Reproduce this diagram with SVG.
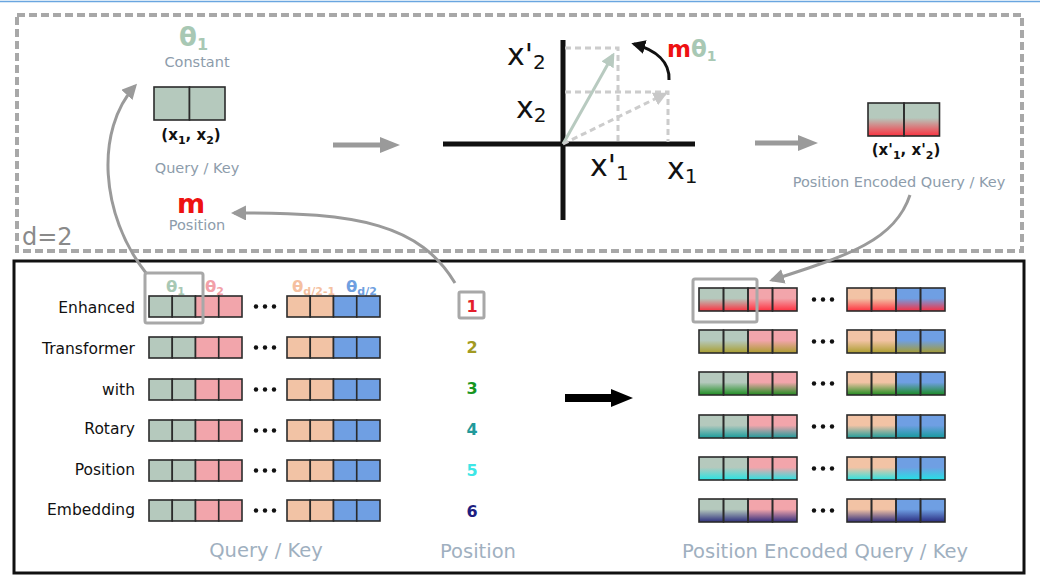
<svg xmlns="http://www.w3.org/2000/svg" width="1040" height="588" viewBox="0 0 1040 588">
<style>
text{font-family:"DejaVu Sans",Verdana,sans-serif}
.lbl{font-size:14.5px;fill:#8d9cab;text-anchor:middle}
.big{font-size:19.5px;fill:#9fb0c0;text-anchor:middle}
.row{font-size:15.5px;fill:#111;text-anchor:end}
.num{font-size:16px;font-weight:bold;text-anchor:middle}
.ax{font-size:30px;fill:#111}
.c{stroke:#2b2b2b;stroke-width:1.6}
.g{fill:#b5c9bd}.p{fill:#f2a5ab}.o{fill:#f2c3a5}.b{fill:#6f9fe3}
.curve{fill:none;stroke:#9a9a9a;stroke-width:3;marker-end:url(#ga)}
.dash{fill:none;stroke:#cccccc;stroke-width:3;stroke-dasharray:6 4}
.th{font-weight:bold;font-size:16.5px}
</style>
<defs>
<marker id="ga" viewBox="0 0 10 10" refX="8" refY="5" markerWidth="15" markerHeight="15" markerUnits="userSpaceOnUse" orient="auto"><path d="M0,0 L10,5 L0,10 z" fill="#9a9a9a"/></marker>
<marker id="va" viewBox="0 0 10 10" refX="8" refY="5" markerWidth="14" markerHeight="14" markerUnits="userSpaceOnUse" orient="auto"><path d="M0,0 L10,5 L0,10 z" fill="#b8cac0"/></marker>
<marker id="da" viewBox="0 0 10 10" refX="8" refY="5" markerWidth="14" markerHeight="14" markerUnits="userSpaceOnUse" orient="auto"><path d="M0,0 L10,5 L0,10 z" fill="#c8c8c8"/></marker>
<marker id="ka" viewBox="0 0 10 10" refX="8" refY="5" markerWidth="14" markerHeight="14" markerUnits="userSpaceOnUse" orient="auto"><path d="M0,0 L10,5 L0,10 z" fill="#111"/></marker>
<linearGradient id="r1" x1="0" y1="0" x2="0" y2="1"><stop offset="0.45" stop-color="#ff2a3a" stop-opacity="0"/><stop offset="1" stop-color="#ff2a3a" stop-opacity="0.95"/></linearGradient>
<linearGradient id="r2" x1="0" y1="0" x2="0" y2="1"><stop offset="0.45" stop-color="#a89c28" stop-opacity="0"/><stop offset="1" stop-color="#a89c28" stop-opacity="0.95"/></linearGradient>
<linearGradient id="r3" x1="0" y1="0" x2="0" y2="1"><stop offset="0.45" stop-color="#158a18" stop-opacity="0"/><stop offset="1" stop-color="#158a18" stop-opacity="0.95"/></linearGradient>
<linearGradient id="r4" x1="0" y1="0" x2="0" y2="1"><stop offset="0.45" stop-color="#109a9a" stop-opacity="0"/><stop offset="1" stop-color="#109a9a" stop-opacity="0.95"/></linearGradient>
<linearGradient id="r5" x1="0" y1="0" x2="0" y2="1"><stop offset="0.45" stop-color="#20e5e5" stop-opacity="0"/><stop offset="1" stop-color="#20e5e5" stop-opacity="0.95"/></linearGradient>
<linearGradient id="r6" x1="0" y1="0" x2="0" y2="1"><stop offset="0.45" stop-color="#26267a" stop-opacity="0"/><stop offset="1" stop-color="#26267a" stop-opacity="0.95"/></linearGradient>
<g id="L1"><rect class="c g" x="0" y="0" width="23.25" height="21"/><rect class="c g" x="23.25" y="0" width="23.25" height="21"/><rect class="c p" x="46.5" y="0" width="23.25" height="21"/><rect class="c p" x="69.75" y="0" width="23.25" height="21"/></g>
<g id="L2"><rect class="c o" x="0" y="0" width="23.25" height="21"/><rect class="c o" x="23.25" y="0" width="23.25" height="21"/><rect class="c b" x="46.5" y="0" width="23.25" height="21"/><rect class="c b" x="69.75" y="0" width="23.25" height="21"/></g>
<g id="D" fill="#111"><circle cx="-9" cy="0" r="2.2"/><circle cx="0" cy="0" r="2.2"/><circle cx="9" cy="0" r="2.2"/></g>
<g id="R1"><rect class="g" x="0" y="0" width="24.5" height="23"/><rect class="g" x="24.5" y="0" width="24.5" height="23"/><rect class="p" x="49" y="0" width="24.5" height="23"/><rect class="p" x="73.5" y="0" width="24.5" height="23"/></g>
<g id="R2"><rect class="o" x="0" y="0" width="24.5" height="23"/><rect class="o" x="24.5" y="0" width="24.5" height="23"/><rect class="b" x="49" y="0" width="24.5" height="23"/><rect class="b" x="73.5" y="0" width="24.5" height="23"/></g>
<g id="RO" fill="none"><rect class="c" x="0" y="0" width="24.5" height="23"/><rect class="c" x="24.5" y="0" width="24.5" height="23"/><rect class="c" x="49" y="0" width="24.5" height="23"/><rect class="c" x="73.5" y="0" width="24.5" height="23"/></g>
</defs>
<rect width="1040" height="588" fill="#ffffff"/>
<line x1="0" y1="1.5" x2="1040" y2="1.5" stroke="#6aa6e0" stroke-width="1.5"/>

<g id="frames">
<rect x="17" y="15" width="1005" height="236" fill="none" stroke="#a8a8a8" stroke-width="4" stroke-dasharray="8 4"/>
<rect x="14" y="261" width="1010" height="312" fill="none" stroke="#111" stroke-width="3"/>
<text x="22" y="245" font-size="24" fill="#8a8a8a">d=2</text>
</g>

<g id="query-key-top">
<text x="179" y="46" font-weight="bold" font-size="26" fill="#a8c8b4">θ<tspan font-size="16" dy="4">1</tspan></text>
<text class="lbl" x="197" y="67">Constant</text>
<rect class="c g" x="154" y="87" width="35.5" height="33" stroke-width="2"/>
<rect class="c g" x="189.5" y="87" width="35.5" height="33" stroke-width="2"/>
<text x="191" y="140" font-size="15" font-weight="bold" fill="#111" text-anchor="middle">(x<tspan font-size="11" dy="4">1</tspan><tspan dy="-4">, x</tspan><tspan font-size="11" dy="4">2</tspan><tspan dy="-4">)</tspan></text>
<text class="lbl" x="197" y="173">Query / Key</text>
</g>

<g id="position-top">
<text x="191" y="213" font-size="27" font-weight="bold" fill="#ee1111" text-anchor="middle">m</text>
<text class="lbl" x="197" y="230">Position</text>
</g>

<g id="rotation">
<line x1="443" y1="144" x2="695" y2="144" stroke="#111" stroke-width="5"/>
<line x1="563" y1="40" x2="563" y2="220" stroke="#111" stroke-width="5"/>
<path class="dash" d="M565 48 H618 V142"/>
<path class="dash" d="M565 92 H668 V142"/>
<line x1="563" y1="144" x2="613" y2="55" stroke="#b8cac0" stroke-width="3" marker-end="url(#va)"/>
<line x1="563" y1="144" x2="665" y2="94" class="dash" marker-end="url(#da)"/>
<path d="M669 80 C670 62 656 50 634 44" fill="none" stroke="#111" stroke-width="3" marker-end="url(#ka)"/>
<text x="667" y="57" font-size="23" font-weight="bold"><tspan fill="#ee1111">m</tspan><tspan fill="#a8c8b4">θ</tspan><tspan fill="#a8c8b4" font-size="14" dy="4">1</tspan></text>
<text class="ax" x="507" y="65">x'<tspan font-size="20" dy="4">2</tspan></text>
<text class="ax" x="516" y="118">x<tspan font-size="20" dy="4">2</tspan></text>
<text class="ax" x="590" y="176">x'<tspan font-size="20" dy="4">1</tspan></text>
<text class="ax" x="667" y="179">x<tspan font-size="20" dy="4">1</tspan></text>
</g>

<g id="encoded-top">
<rect class="g" x="868" y="103" width="71.5" height="33"/>
<rect x="868" y="103" width="71.5" height="33" fill="url(#r1)"/>
<rect class="c" fill="none" x="868" y="103" width="36" height="33" stroke-width="2"/>
<rect class="c" fill="none" x="904" y="103" width="35.5" height="33" stroke-width="2"/>
<text x="906" y="155" font-size="15" font-weight="bold" fill="#111" text-anchor="middle">(x'<tspan font-size="11" dy="4">1</tspan><tspan dy="-4">, x'</tspan><tspan font-size="11" dy="4">2</tspan><tspan dy="-4">)</tspan></text>
<text class="lbl" x="899" y="187">Position Encoded Query / Key</text>
</g>

<g id="connectors">
<path d="M333 145 H381" stroke="#9a9a9a" stroke-width="5"/>
<path d="M380 137 L400 145 L380 153 z" fill="#9a9a9a"/>
<path d="M755 143 H799" stroke="#9a9a9a" stroke-width="5"/>
<path d="M798 135 L818 143 L798 151 z" fill="#9a9a9a"/>
<path class="curve" d="M146 273 C100 215 95 130 135 86"/>
<path class="curve" d="M455 283 C420 225 360 212 234 213"/>
<path class="curve" d="M910 195 C895 240 850 255 772 280"/>
<path d="M565 394 H611 V389 L633 398 L611 407 V402 H565 z" fill="#000"/>
</g>

<g id="query-key-rows">
<text class="th" x="166" y="292" fill="#a8c8b4">θ<tspan font-size="11" dy="3">1</tspan></text>
<text class="th" x="205" y="292" fill="#f2a0a8">θ<tspan font-size="11" dy="3">2</tspan></text>
<text class="th" x="292" y="292" fill="#f5c0a0">θ<tspan font-size="11" dy="3">d/2-1</tspan></text>
<text class="th" x="346" y="292" fill="#6f9fe0">θ<tspan font-size="11" dy="3">d/2</tspan></text>
<text class="row" x="135" y="313">Enhanced</text>
<text class="row" x="135" y="354">Transformer</text>
<text class="row" x="135" y="395">with</text>
<text class="row" x="135" y="434">Rotary</text>
<text class="row" x="135" y="475">Position</text>
<text class="row" x="135" y="515">Embedding</text>
<use href="#L1" x="149" y="296"/><use href="#D" x="265" y="306.5"/><use href="#L2" x="287" y="296"/>
<use href="#L1" x="149" y="337"/><use href="#D" x="265" y="347.5"/><use href="#L2" x="287" y="337"/>
<use href="#L1" x="149" y="379"/><use href="#D" x="265" y="389.5"/><use href="#L2" x="287" y="379"/>
<use href="#L1" x="149" y="420"/><use href="#D" x="265" y="430.5"/><use href="#L2" x="287" y="420"/>
<use href="#L1" x="149" y="460"/><use href="#D" x="265" y="470.5"/><use href="#L2" x="287" y="460"/>
<use href="#L1" x="149" y="500"/><use href="#D" x="265" y="510.5"/><use href="#L2" x="287" y="500"/>
<rect x="145" y="273" width="58" height="50" rx="2" fill="none" stroke="#a8a8a8" stroke-width="3"/>
<text class="big" x="266" y="557">Query / Key</text>
</g>

<g id="positions">
<rect x="459" y="292" width="25" height="26" rx="1.5" fill="none" stroke="#a8a8a8" stroke-width="3"/>
<text class="num" x="472" y="312" fill="#e41e2c">1</text>
<text class="num" x="472" y="353" fill="#a29a22">2</text>
<text class="num" x="472" y="394" fill="#17961f">3</text>
<text class="num" x="472" y="435" fill="#21999a">4</text>
<text class="num" x="472" y="476" fill="#3ee6e6">5</text>
<text class="num" x="472" y="517" fill="#1e1e80">6</text>
<text class="big" x="478" y="558">Position</text>
</g>

<g id="encoded-rows">
<use href="#R1" x="699" y="288"/><rect x="699" y="288" width="98" height="23" fill="url(#r1)"/><use href="#RO" x="699" y="288"/>
<use href="#D" x="823" y="299.5"/>
<use href="#R2" x="847" y="288"/><rect x="847" y="288" width="98" height="23" fill="url(#r1)"/><use href="#RO" x="847" y="288"/>
<use href="#R1" x="699" y="330"/><rect x="699" y="330" width="98" height="23" fill="url(#r2)"/><use href="#RO" x="699" y="330"/>
<use href="#D" x="823" y="341.5"/>
<use href="#R2" x="847" y="330"/><rect x="847" y="330" width="98" height="23" fill="url(#r2)"/><use href="#RO" x="847" y="330"/>
<use href="#R1" x="699" y="372"/><rect x="699" y="372" width="98" height="23" fill="url(#r3)"/><use href="#RO" x="699" y="372"/>
<use href="#D" x="823" y="383.5"/>
<use href="#R2" x="847" y="372"/><rect x="847" y="372" width="98" height="23" fill="url(#r3)"/><use href="#RO" x="847" y="372"/>
<use href="#R1" x="699" y="415"/><rect x="699" y="415" width="98" height="23" fill="url(#r4)"/><use href="#RO" x="699" y="415"/>
<use href="#D" x="823" y="426.5"/>
<use href="#R2" x="847" y="415"/><rect x="847" y="415" width="98" height="23" fill="url(#r4)"/><use href="#RO" x="847" y="415"/>
<use href="#R1" x="699" y="457"/><rect x="699" y="457" width="98" height="23" fill="url(#r5)"/><use href="#RO" x="699" y="457"/>
<use href="#D" x="823" y="468.5"/>
<use href="#R2" x="847" y="457"/><rect x="847" y="457" width="98" height="23" fill="url(#r5)"/><use href="#RO" x="847" y="457"/>
<use href="#R1" x="699" y="499"/><rect x="699" y="499" width="98" height="23" fill="url(#r6)"/><use href="#RO" x="699" y="499"/>
<use href="#D" x="823" y="510.5"/>
<use href="#R2" x="847" y="499"/><rect x="847" y="499" width="98" height="23" fill="url(#r6)"/><use href="#RO" x="847" y="499"/>
<rect x="693" y="279" width="64" height="43" rx="2" fill="none" stroke="#a8a8a8" stroke-width="3"/>
<text class="big" x="825" y="558">Position Encoded Query / Key</text>
</g>
</svg>
